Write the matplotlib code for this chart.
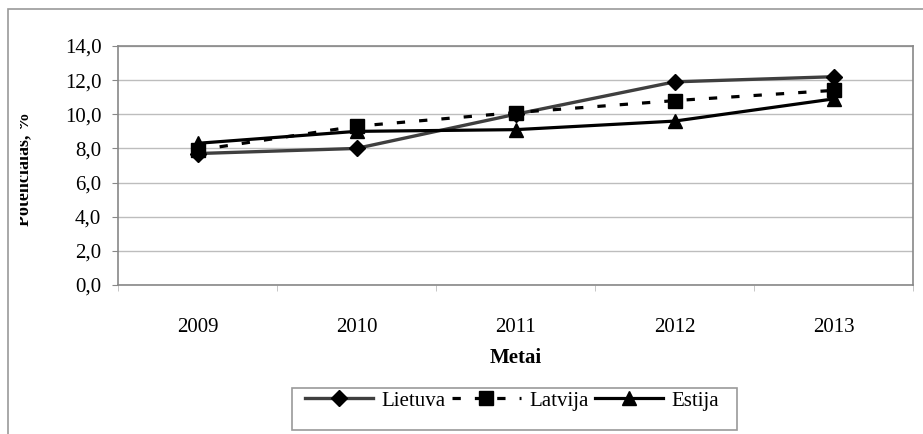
import matplotlib as mpl
import matplotlib.pyplot as plt
from matplotlib.lines import Line2D
from matplotlib.patches import Rectangle
from matplotlib.transforms import Bbox, TransformedBbox
from matplotlib.ticker import FuncFormatter, MultipleLocator

mpl.rcParams['font.family'] = ['Liberation Serif', 'DejaVu Serif']

years = ['2009', '2010', '2011', '2012', '2013']
lietuva = [7.7, 8.0, 10.0, 11.9, 12.2]
latvija = [7.9, 9.3, 10.1, 10.8, 11.4]
estija = [8.3, 9.0, 9.1, 9.6, 10.9]

W, H = 923, 434
fig = plt.figure(figsize=(W / 100, H / 100), dpi=100)
ax = fig.add_axes([118 / W, 1 - 285 / H, 795 / W, 239 / H])

x = range(len(years))
# Lietuva - pilka linija su rombais
ax.plot(x, lietuva, color='#3f3f3f', lw=2.4, marker='D', ms=8,
        mfc='black', mec='black', zorder=3)
# Latvija - punktyrinė linija su kvadratais
ax.plot(x, latvija, color='black', lw=2.3, ls=(0, (2.6, 4.4)), marker='s', ms=10,
        mfc='black', mec='black', zorder=4)
# Estija - juoda linija su trikampiais
ax.plot(x, estija, color='black', lw=2.3, marker='^', ms=10,
        mfc='black', mec='black', zorder=5)

ax.set_xlim(-0.5, len(years) - 0.5)
ax.set_ylim(0, 14)
ax.yaxis.set_major_locator(MultipleLocator(2))
ax.yaxis.set_major_formatter(FuncFormatter(lambda v, p: f'{v:.1f}'.replace('.', ',')))
ax.grid(axis='y', color='#bdbdbd', lw=1.0)
ax.set_axisbelow(True)

ax.set_xticks(list(x))
ax.set_xticklabels(years)
ax.set_xticks([i - 0.5 for i in range(len(years) + 1)], minor=True)
ax.tick_params(axis='x', which='major', length=0, pad=24, labelsize=15)
ax.tick_params(axis='x', which='minor', length=4, color='#bdbdbd')
ax.tick_params(axis='y', length=4, color='#888888', pad=8, labelsize=15)

for s in ax.spines.values():
    s.set_color('#888888')
    s.set_linewidth(1.2)

ax.set_xlabel('Metai', fontsize=15, fontweight='bold', labelpad=8)

# y ašies pavadinimas, nukirptas kairėje
ylab = fig.text(32 / W, 1 - 169 / H, 'Potencialas, %', rotation=90,
                ha='right', va='center', fontsize=13, fontweight='bold')
ylab.set_clip_box(TransformedBbox(Bbox([[20 / W, 0], [1, 1]]), fig.transFigure))
ylab.set_clip_on(True)

# išorinis rėmelis
fig.patches.append(Rectangle((8 / W, -0.1), 1.2, 1 - 9 / H + 0.1,
                             transform=fig.transFigure, fill=False,
                             ec='#9a9a9a', lw=1.2))

handles = [
    Line2D([], [], color='#3f3f3f', lw=2.4, marker='D', ms=8, mfc='black', mec='black'),
    Line2D([], [], color='black', lw=2.3, ls=(0, (2.6, 4.4)), marker='s', ms=10,
           mfc='black', mec='black'),
    Line2D([], [], color='black', lw=2.3, marker='^', ms=10, mfc='black', mec='black'),
]
leg = fig.legend(handles, ['Lietuva', 'Latvija', 'Estija'], ncol=3,
                 loc='upper center', bbox_to_anchor=(512 / W, 1 - 389 / H),
                 frameon=False, fontsize=15, handlelength=3.3,
                 handletextpad=0.4, columnspacing=0.3, borderpad=0.1,
                 borderaxespad=0)
fig.patches.append(Rectangle((292 / W, 1 - 430 / H), 445 / W, 42 / H,
                             transform=fig.transFigure, fill=False,
                             ec='#9a9a9a', lw=1.2))

fig.savefig('out.png', dpi=100)
